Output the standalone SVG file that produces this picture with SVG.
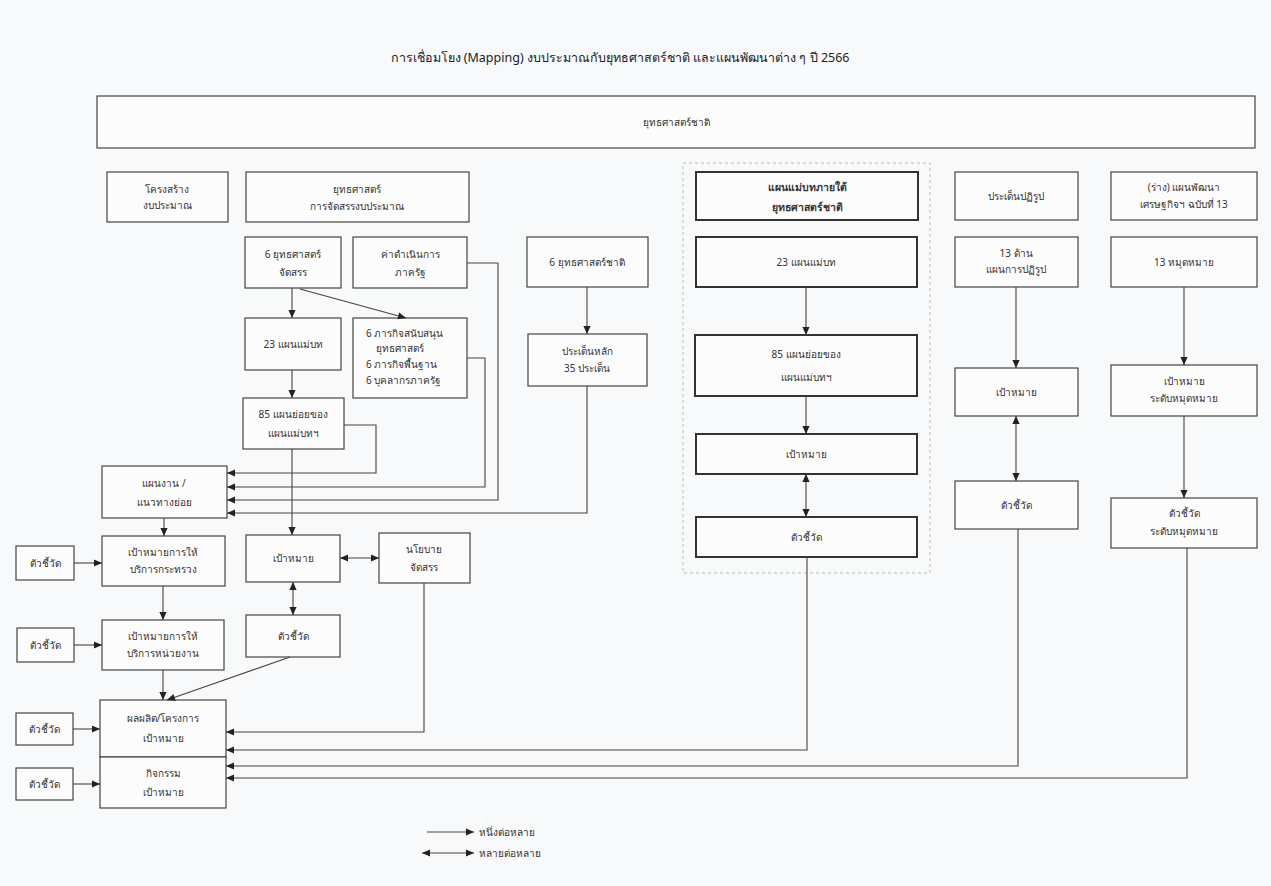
<svg xmlns="http://www.w3.org/2000/svg" width="1271" height="886" viewBox="0 0 1271 886">
<style>
text{font-family:"Noto Sans","DejaVu Sans",sans-serif;font-size:10px;fill:#333;text-anchor:middle}
.title{font-size:12.5px;fill:#222}
.b{fill:#fcfcfd;stroke:#444;stroke-width:1.2}
.bt{fill:#fcfcfd;stroke:#333;stroke-width:2}
.hb{font-weight:bold;font-size:10.5px}
.l{text-anchor:start}
.c{fill:none;stroke:#444;stroke-width:1.1}
.ar{marker-end:url(#a)}
.dbl{marker-start:url(#a);marker-end:url(#a)}
</style>
<defs>
<marker id="a" viewBox="0 0 10 10" refX="10" refY="5" markerWidth="9" markerHeight="8" markerUnits="userSpaceOnUse" orient="auto-start-reverse">
<path d="M0,0.5 L10,5 L0,9.5 z" fill="#222"/>
</marker>
</defs>
<rect width="1271" height="886" fill="#f8f9fa"/>
<text class="title" x="620" y="62">การเชื่อมโยง (Mapping) งบประมาณกับยุทธศาสตร์ชาติ และแผนพัฒนาต่าง ๆ ปี 2566</text>
<rect x="683" y="163" width="247" height="410" fill="none" stroke="#bbb" stroke-width="1" stroke-dasharray="3 3"/>

<g id="n-top"><rect class="b" x="97" y="96" width="1158" height="52"/><text x="676" y="126">ยุทธศาสตร์ชาติ</text></g>
<g id="n-struct"><rect class="b" x="107" y="172" width="121" height="50"/><text x="167" y="193">โครงสร้าง</text><text x="167" y="209">งบประมาณ</text></g>
<g id="n-alloc"><rect class="b" x="246" y="172" width="223" height="50"/><text x="357" y="193">ยุทธศาสตร์</text><text x="357" y="210">การจัดสรรงบประมาณ</text></g>
<g id="n-master-h"><rect class="bt" x="696" y="172" width="222" height="48"/><text class="hb" x="807" y="191">แผนแม่บทภายใต้</text><text class="hb" x="807" y="211">ยุทธศาสตร์ชาติ</text></g>
<g id="n-reform-h"><rect class="b" x="955" y="172" width="123" height="48"/><text x="1016" y="200">ประเด็นปฏิรูป</text></g>
<g id="n-econ-h"><rect class="b" x="1111" y="172" width="146" height="48"/><text x="1184" y="191">(ร่าง) แผนพัฒนา</text><text x="1184" y="208">เศรษฐกิจฯ ฉบับที่ 13</text></g>

<g id="n-6str"><rect class="b" x="245" y="237" width="96" height="51"/><text x="293" y="258">6 ยุทธศาสตร์</text><text x="293" y="276">จัดสรร</text></g>
<g id="n-ops"><rect class="b" x="353" y="237" width="114" height="51"/><text x="410" y="258">ค่าดำเนินการ</text><text x="410" y="276">ภาครัฐ</text></g>
<g id="n-6nat"><rect class="b" x="527" y="237" width="121" height="50"/><text x="587" y="266">6 ยุทธศาสตร์ชาติ</text></g>
<g id="n-23m"><rect class="bt" x="696" y="237" width="221" height="50"/><text x="806" y="266">23 แผนแม่บท</text></g>
<g id="n-13r"><rect class="b" x="955" y="237" width="123" height="50"/><text x="1016" y="257">13 ด้าน</text><text x="1016" y="273">แผนการปฏิรูป</text></g>
<g id="n-13m"><rect class="b" x="1111" y="237" width="146" height="50"/><text x="1184" y="266">13 หมุดหมาย</text></g>

<g id="n-23l"><rect class="b" x="245" y="318" width="96" height="52"/><text x="293" y="348">23 แผนแม่บท</text></g>
<g id="n-6mis"><rect class="b" x="353" y="318" width="114" height="80"/><text class="l" x="366" y="337">6 ภารกิจสนับสนุน</text><text class="l" x="376" y="352">ยุทธศาสตร์</text><text class="l" x="366" y="368">6 ภารกิจพื้นฐาน</text><text class="l" x="366" y="384">6 บุคลากรภาครัฐ</text></g>
<g id="n-35"><rect class="b" x="528" y="334" width="119" height="52"/><text x="587" y="355">ประเด็นหลัก</text><text x="587" y="372">35 ประเด็น</text></g>
<g id="n-85m"><rect class="bt" x="695" y="335" width="222" height="61"/><text x="806" y="358">85 แผนย่อยของ</text><text x="806" y="381">แผนแม่บทฯ</text></g>
<g id="n-goal-r"><rect class="b" x="955" y="368" width="123" height="48"/><text x="1016" y="396">เป้าหมาย</text></g>
<g id="n-goal-e"><rect class="b" x="1111" y="365" width="146" height="51"/><text x="1184" y="385">เป้าหมาย</text><text x="1184" y="402">ระดับหมุดหมาย</text></g>
<g id="n-85l"><rect class="b" x="243" y="398" width="101" height="51"/><text x="293" y="418">85 แผนย่อยของ</text><text x="293" y="437">แผนแม่บทฯ</text></g>
<g id="n-goal-m"><rect class="bt" x="696" y="434" width="221" height="40"/><text x="806" y="458">เป้าหมาย</text></g>
<g id="n-kpi-r"><rect class="b" x="955" y="481" width="123" height="48"/><text x="1016" y="509">ตัวชี้วัด</text></g>
<g id="n-kpi-e"><rect class="b" x="1111" y="498" width="146" height="50"/><text x="1184" y="517">ตัวชี้วัด</text><text x="1184" y="535">ระดับหมุดหมาย</text></g>
<g id="n-kpi-m"><rect class="bt" x="696" y="517" width="221" height="40"/><text x="806" y="541">ตัวชี้วัด</text></g>

<g id="n-plan"><rect class="b" x="102" y="466" width="125" height="52"/><text x="164" y="487">แผนงาน /</text><text x="164" y="506">แนวทางย่อย</text></g>
<g id="n-svc-min"><rect class="b" x="102" y="536" width="123" height="50"/><text x="163" y="556">เป้าหมายการให้</text><text x="163" y="573">บริการกระทรวง</text></g>
<g id="n-kpi1"><rect class="b" x="16" y="546" width="58" height="34"/><text x="45" y="567">ตัวชี้วัด</text></g>
<g id="n-goal-l"><rect class="b" x="246" y="535" width="94" height="47"/><text x="293" y="562">เป้าหมาย</text></g>
<g id="n-policy"><rect class="b" x="379" y="533" width="91" height="50"/><text x="424" y="553">นโยบาย</text><text x="424" y="571">จัดสรร</text></g>
<g id="n-kpi-l"><rect class="b" x="246" y="615" width="94" height="42"/><text x="293" y="640">ตัวชี้วัด</text></g>
<g id="n-svc-ag"><rect class="b" x="102" y="620" width="122" height="50"/><text x="163" y="640">เป้าหมายการให้</text><text x="163" y="657">บริการหน่วยงาน</text></g>
<g id="n-kpi2"><rect class="b" x="17" y="628" width="57" height="34"/><text x="45" y="649">ตัวชี้วัด</text></g>
<g id="n-output"><rect class="b" x="100" y="700" width="126" height="57"/><text x="163" y="722">ผลผลิต/โครงการ</text><text x="163" y="742">เป้าหมาย</text></g>
<g id="n-activity"><rect class="b" x="100" y="757" width="126" height="51"/><text x="163" y="777">กิจกรรม</text><text x="163" y="796">เป้าหมาย</text></g>
<g id="n-kpi3"><rect class="b" x="16" y="713" width="57" height="32"/><text x="44" y="733">ตัวชี้วัด</text></g>
<g id="n-kpi4"><rect class="b" x="16" y="768" width="57" height="32"/><text x="44" y="788">ตัวชี้วัด</text></g>

<g id="connectors">
<path class="c ar" d="M292,288 V318"/>
<path class="c ar" d="M300,289 L406,318"/>
<path class="c ar" d="M292,370 V398"/>
<path class="c ar" d="M344,425 H376 V473 H227"/>
<path class="c ar" d="M467,358 H485 V487 H227"/>
<path class="c ar" d="M467,263 H498 V500 H227"/>
<path class="c ar" d="M587,287 V334"/>
<path class="c ar" d="M587,386 V513 H227"/>
<path class="c ar" d="M292,449 V535"/>
<path class="c ar" d="M164,518 V536"/>
<path class="c ar" d="M74,563 H102"/>
<path class="c dbl" d="M340,558 H379"/>
<path class="c dbl" d="M293,582 V615"/>
<path class="c ar" d="M163,586 V620"/>
<path class="c ar" d="M74,645 H102"/>
<path class="c ar" d="M163,670 V700"/>
<path class="c ar" d="M290,657 L167,700"/>
<path class="c ar" d="M73,729 H100"/>
<path class="c ar" d="M73,784 H100"/>
<path class="c ar" d="M424,583 V732 H226"/>
<path class="c ar" d="M807,557 V750 H226"/>
<path class="c ar" d="M1018,529 V766 H226"/>
<path class="c ar" d="M1187,548 V778 H226"/>
<path class="c ar" d="M806,287 V335"/>
<path class="c ar" d="M806,396 V434"/>
<path class="c dbl" d="M806,474 V517"/>
<path class="c ar" d="M1016,287 V368"/>
<path class="c dbl" d="M1016,416 V481"/>
<path class="c ar" d="M1184,287 V365"/>
<path class="c ar" d="M1184,416 V498"/>
</g>

<g id="legend">
<path class="c ar" d="M427,832 H474"/>
<text class="l" x="479" y="836">หนึ่งต่อหลาย</text>
<path class="c dbl" d="M422,853 H474"/>
<text class="l" x="479" y="857">หลายต่อหลาย</text>
</g>
</svg>
